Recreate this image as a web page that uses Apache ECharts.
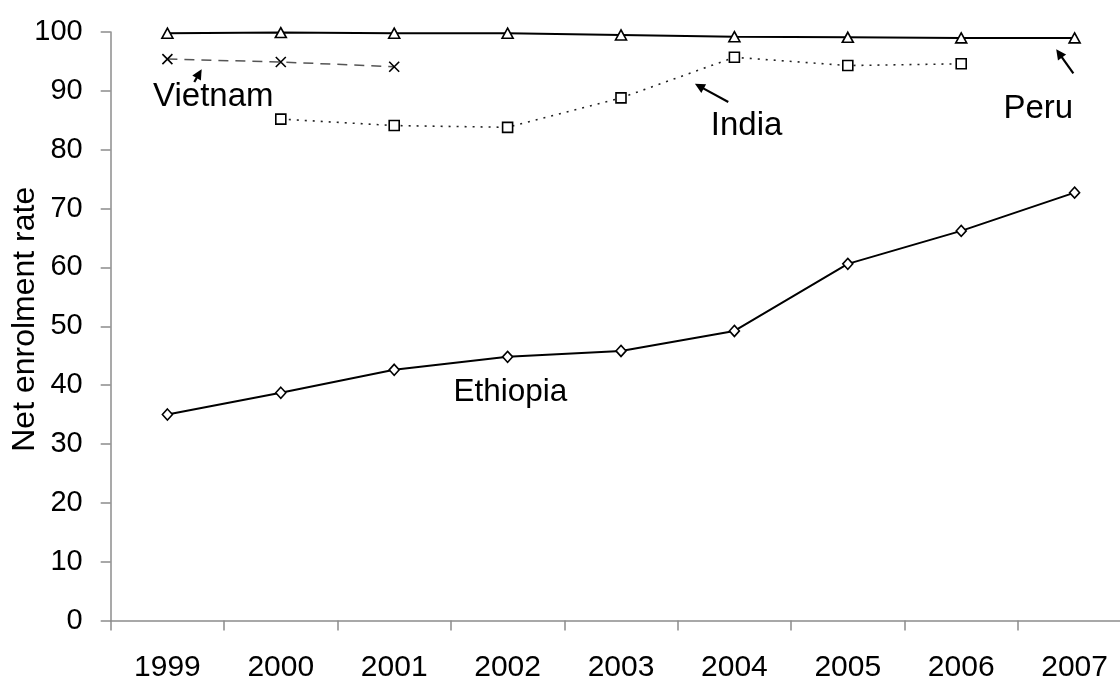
<!DOCTYPE html>
<html>
<head>
<meta charset="utf-8">
<script src="https://cdn.jsdelivr.net/npm/echarts@6/dist/echarts.min.js"></script>
<style>
html,body{margin:0;padding:0;background:#fff;}
#chart{width:1120px;height:680px;}
</style>
</head>
<body>
<div id="chart"></div>
<script>
var years = ['1999','2000','2001','2002','2003','2004','2005','2006','2007'];
var peru = [99.8, 99.9, 99.8, 99.8, 99.5, 99.2, 99.1, 99.0, 99.0];
var vietnam = [95.4, 94.9, 94.1, null, null, null, null, null, null];
var india = [null, 85.2, 84.1, 83.8, 88.8, 95.7, 94.3, 94.6, null];
var ethiopia = [35.0, 38.7, 42.6, 44.8, 45.8, 49.2, 60.6, 66.2, 72.7];
var yTicks = [0, 10, 20, 30, 40, 50, 60, 70, 80, 90, 100];

// annotation anchors in data space: [category index, value]
var labels = [
  {text: 'Vietnam', at: [0.405, 89.0], size: 33},
  {text: 'India', at: [5.107, 84.0], size: 33},
  {text: 'Peru', at: [7.68, 86.9], size: 33},
  {text: 'Ethiopia', at: [3.025, 38.8], size: 31.5}
];
var arrows = [
  {from: [0.237, 91.5], to: [0.302, 93.65]},
  {from: [4.946, 88.1], to: [4.652, 91.2]},
  {from: [7.989, 92.97], to: [7.838, 97.05]}
];

var FONT = '"Liberation Sans", Arial, sans-serif';
var chart = echarts.init(document.getElementById('chart'), null, {renderer: 'canvas'});

var crossPath = 'path://M0,0L10,10M10,0L0,10';

var option = {
  animation: false,
  backgroundColor: '#ffffff',
  grid: {left: 110.7, top: 32, width: 1020.6, height: 588.5, containLabel: false, outerBoundsMode: 'none'},
  xAxis: {
    type: 'category',
    data: years,
    boundaryGap: true,
    axisLine: {lineStyle: {color: '#8c8c8c', width: 1.5}},
    axisTick: {show: true, length: 10, alignWithLabel: false, lineStyle: {color: '#8c8c8c', width: 1.5}},
    axisLabel: {color: '#000', fontFamily: FONT, fontSize: 30, margin: 32},
    splitLine: {show: false}
  },
  yAxis: {
    type: 'value',
    min: 0, max: 100, interval: 10,
    name: 'Net enrolment rate',
    nameLocation: 'middle',
    nameGap: 70,
    nameMoveOverlap: false,
    nameTextStyle: {color: '#000', fontFamily: FONT, fontSize: 32, padding: [0, 0, 0, 14]},
    axisLine: {show: true, lineStyle: {color: '#8c8c8c', width: 1.5}},
    axisTick: {show: true, length: 10, lineStyle: {color: '#8c8c8c', width: 1.5}},
    axisLabel: {color: '#000', fontFamily: FONT, fontSize: 29, margin: 28,
      formatter: function (v) { return yTicks.indexOf(v) >= 0 ? String(v) : ''; }},
    splitLine: {show: false}
  },
  series: [
    {
      name: 'Peru', type: 'line', data: peru,
      symbol: 'triangle', symbolSize: [11, 10], showAllSymbol: true,
      lineStyle: {color: '#000', width: 2},
      itemStyle: {color: '#fff', borderColor: '#000', borderWidth: 1.6}
    },
    {
      name: 'Vietnam', type: 'line', data: vietnam,
      symbol: crossPath, symbolSize: 10, showAllSymbol: true,
      lineStyle: {color: '#555', width: 1.5, type: [10, 7]},
      itemStyle: {color: '#000', borderColor: '#000', borderWidth: 1.6}
    },
    {
      name: 'India', type: 'line', data: india,
      symbol: 'rect', symbolSize: 10, showAllSymbol: true,
      lineStyle: {color: '#222', width: 1.6, type: [2, 6]},
      itemStyle: {color: '#fff', borderColor: '#000', borderWidth: 1.6}
    },
    {
      name: 'Ethiopia', type: 'line', data: ethiopia,
      symbol: 'diamond', symbolSize: [10, 11], showAllSymbol: true,
      lineStyle: {color: '#000', width: 2},
      itemStyle: {color: '#fff', borderColor: '#000', borderWidth: 1.6}
    }
  ]
};
chart.setOption(option);

function toPx(pt) {
  var p0 = chart.convertToPixel({gridIndex: 0}, [0, pt[1]]);
  var p1 = chart.convertToPixel({gridIndex: 0}, [1, pt[1]]);
  return [p0[0] + (p1[0] - p0[0]) * pt[0], p0[1]];
}

var graphics = [];
labels.forEach(function (l) {
  var p = toPx(l.at);
  graphics.push({
    type: 'text', x: p[0], y: p[1], silent: true,
    style: {text: l.text, fill: '#000', font: l.size + 'px ' + FONT, textAlign: 'center', textVerticalAlign: 'middle'}
  });
});
arrows.forEach(function (a) {
  var f = toPx(a.from), t = toPx(a.to);
  var dx = t[0] - f[0], dy = t[1] - f[1];
  var len = Math.sqrt(dx * dx + dy * dy);
  var ux = dx / len, uy = dy / len;
  var hl = 10, hw = 5;
  var bx = t[0] - ux * hl, by = t[1] - uy * hl;
  graphics.push({
    type: 'line', silent: true,
    shape: {x1: f[0], y1: f[1], x2: bx + ux * 2, y2: by + uy * 2},
    style: {stroke: '#000', lineWidth: 2.2}
  });
  graphics.push({
    type: 'polygon', silent: true,
    shape: {points: [[t[0], t[1]], [bx - uy * hw, by + ux * hw], [bx + uy * hw, by - ux * hw]]},
    style: {fill: '#000'}
  });
});
chart.setOption({graphic: graphics});
</script>
</body>
</html>
